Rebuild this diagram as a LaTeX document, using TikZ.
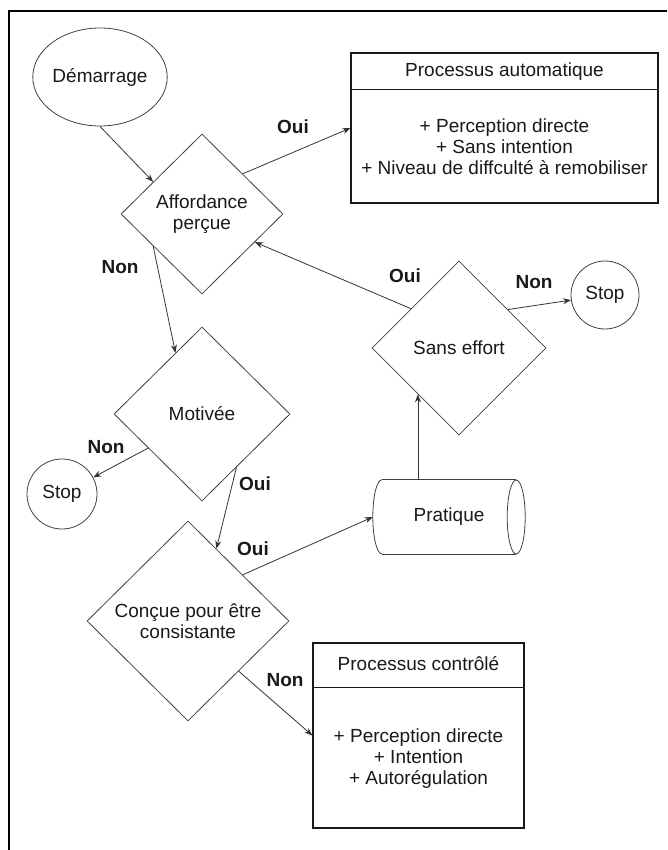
\documentclass[tikz,border=0pt]{standalone}
\usepackage{fontspec}
\setmainfont{Liberation Sans}
\usetikzlibrary{shapes.geometric,arrows.meta,calc}
\newcommand{\dfont}{\fontsize{19}{21}\selectfont}
\begin{document}
\begin{tikzpicture}[x=1pt,y=-1pt,
  shp/.style={draw=black!75, line width=0.8pt},
  dia/.style={shp, diamond, inner sep=0pt, align=center, font=\dfont, text=black!90},
  rnd/.style={shp, circle, inner sep=0pt, font=\dfont, text=black!90},
  boxx/.style={draw=black!90, line width=1.1pt, inner sep=0pt},
  txt/.style={font=\dfont, align=center, text=black!90},
  arr/.style={draw=black!80, line width=0.8pt, -{Stealth[length=8pt,width=6pt]}},
  lab/.style={font=\dfont\bfseries, text=black!90}]
\useasboundingbox (0,0) rectangle (667,850);
\draw[line width=1.4pt] (9,850) -- (9,11) -- (667,11);

% nodes
\node[shp, ellipse, minimum width=108pt, minimum height=98pt, inner sep=0pt, font=\dfont, text=black!90] (dem) at (100,77) {Démarrage};
\node[dia, minimum width=162pt, minimum height=160pt] (aff) at (202,214) {Affordance\\perçue};
\node[dia, minimum width=176pt, minimum height=174pt] (mot) at (202,414) {Motivée};
\node[dia, minimum width=202pt, minimum height=200pt] (con) at (188,621) {Conçue pour être\\consistante};
\node[dia, minimum width=174pt, minimum height=174pt] (se) at (459,348) {Sans effort};
\node[rnd, minimum size=68pt] (stopR) at (605,295) {Stop};
\node[rnd, minimum size=70pt] (stopL) at (62,494) {Stop};

% cylinder
\node[minimum width=152pt, minimum height=74pt, inner sep=0pt, font=\dfont, text=black!90] (prat) at (449,517) {Pratique};
\draw[shp] ([xshift=9pt]prat.north west) -- ([xshift=-9pt]prat.north east);
\draw[shp] ([xshift=9pt]prat.south west) -- ([xshift=-9pt]prat.south east);
\draw[shp] ([xshift=9pt]prat.north west) arc[start angle=90, end angle=270, x radius=9pt, y radius=37pt];
\draw[shp] ([xshift=-9pt]prat.east) ellipse[x radius=9pt, y radius=37pt];

% Processus automatique
\node[boxx, minimum width=307pt, minimum height=150pt] (pa) at (504.5,128) {};
\draw[boxx] ([yshift=-37pt]pa.north west) -- ([yshift=-37pt]pa.north east);
\node[txt] (pah) at (504.5,72) {Processus automatique};
\node[txt] (pab) at (504.5,147) {+ Perception directe\\+ Sans intention\\+ Niveau de diffculté à remobiliser};

% Processus controle
\node[boxx, minimum width=211pt, minimum height=185pt] (pc) at (418.5,735.5) {};
\draw[boxx] ([yshift=-45pt]pc.north west) -- ([yshift=-45pt]pc.north east);
\node[txt] (pch) at (418.5,664) {Processus contrôlé};
\node[txt] (pcb) at (418.5,759) {+ Perception directe\\+ Intention\\+ Autorégulation};

% connectors
\draw[arr] (dem.south) -- ($(aff.north)!0.6!(aff.west)$);
\draw[arr] ($(aff.north)!0.5!(aff.east)$) -- (pa.west);
\draw[arr] ($(aff.west)!0.4!(aff.south)$) -- ($(mot.north)!0.3!(mot.west)$);
\draw[arr] ($(se.north)!0.55!(se.west)$) -- ($(aff.east)!0.35!(aff.south)$);
\draw[arr] ($(se.north)!0.56!(se.east)$) -- (stopR);
\draw[arr] ($(mot.west)!0.39!(mot.south)$) -- (stopL);
\draw[arr] ($(mot.south)!0.39!(mot.east)$) -- ($(con.north)!0.28!(con.east)$);
\draw[arr] ($(con.north)!0.54!(con.east)$) -- (prat.west);
\coordinate (seIn) at ($(se.west)!0.53!(se.south)$);
\draw[arr] (prat.north -| seIn) -- (seIn);
\draw[arr] ($(con.east)!0.5!(con.south)$) -- (pc.west);

% labels
\node[lab] (l1) at (293,127) {Oui};
\node[lab] (l2) at (120,267) {Non};
\node[lab] (l3) at (405,276) {Oui};
\node[lab] (l4) at (534,282) {Non};
\node[lab] (l5) at (106,447) {Non};
\node[lab] (l6) at (255,484) {Oui};
\node[lab] (l7) at (253,549) {Oui};
\node[lab] (l8) at (285,680) {Non};
\end{tikzpicture}
\end{document}
